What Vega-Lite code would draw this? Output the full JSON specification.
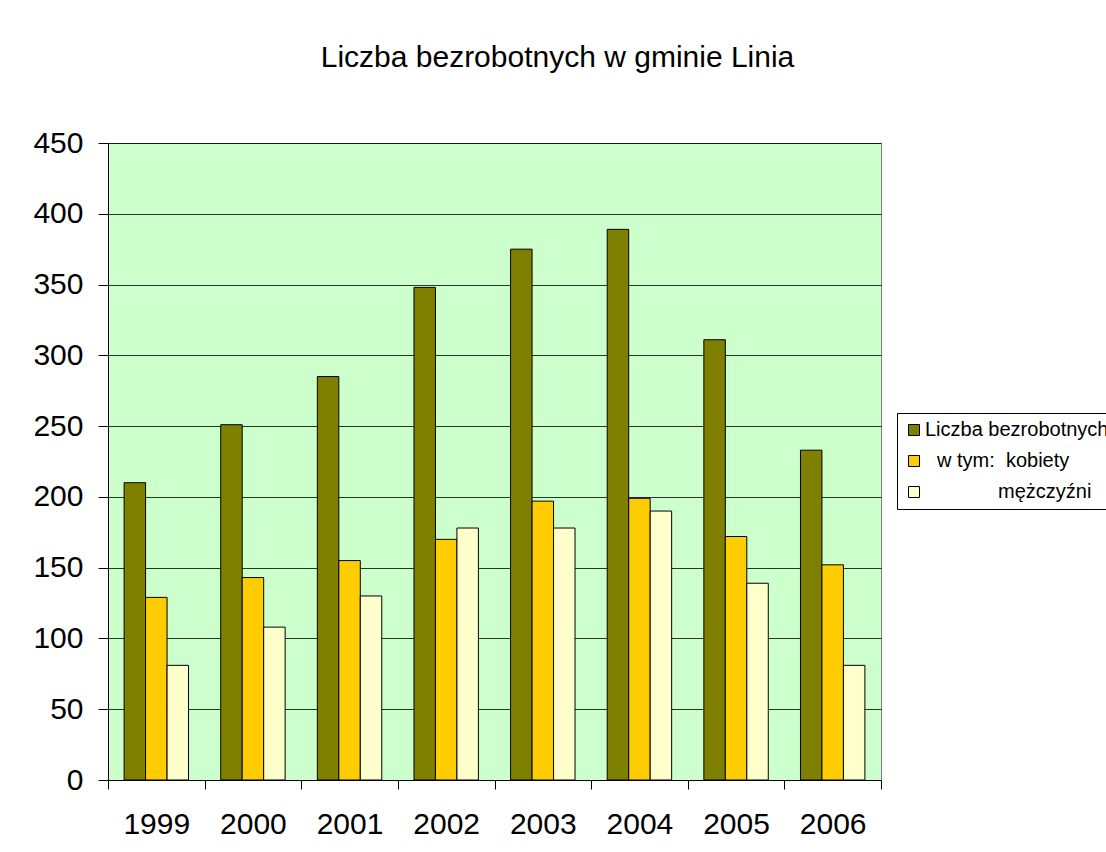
{
  "$schema": "https://vega.github.io/schema/vega-lite/v6.json",
  "autosize": {"type": "none"},
  "width": 773,
  "height": 637,
  "padding": {"left": 108, "top": 143, "right": 225, "bottom": 72},
  "background": "white",
  "title": {
    "text": "Liczba bezrobotnych w gminie Linia",
    "font": "Liberation Sans",
    "fontSize": 30,
    "fontWeight": "normal",
    "color": "black",
    "anchor": "middle",
    "dx": 63,
    "offset": 55
  },
  "data": {
    "values": [
      {"rok": "1999", "seria": "Liczba bezrobotnych", "wartosc": 210},
      {"rok": "1999", "seria": "w tym:  kobiety", "wartosc": 129},
      {"rok": "1999", "seria": "mężczyźni", "wartosc": 81},
      {"rok": "2000", "seria": "Liczba bezrobotnych", "wartosc": 251},
      {"rok": "2000", "seria": "w tym:  kobiety", "wartosc": 143},
      {"rok": "2000", "seria": "mężczyźni", "wartosc": 108},
      {"rok": "2001", "seria": "Liczba bezrobotnych", "wartosc": 285},
      {"rok": "2001", "seria": "w tym:  kobiety", "wartosc": 155},
      {"rok": "2001", "seria": "mężczyźni", "wartosc": 130},
      {"rok": "2002", "seria": "Liczba bezrobotnych", "wartosc": 348},
      {"rok": "2002", "seria": "w tym:  kobiety", "wartosc": 170},
      {"rok": "2002", "seria": "mężczyźni", "wartosc": 178},
      {"rok": "2003", "seria": "Liczba bezrobotnych", "wartosc": 375},
      {"rok": "2003", "seria": "w tym:  kobiety", "wartosc": 197},
      {"rok": "2003", "seria": "mężczyźni", "wartosc": 178},
      {"rok": "2004", "seria": "Liczba bezrobotnych", "wartosc": 389},
      {"rok": "2004", "seria": "w tym:  kobiety", "wartosc": 199},
      {"rok": "2004", "seria": "mężczyźni", "wartosc": 190},
      {"rok": "2005", "seria": "Liczba bezrobotnych", "wartosc": 311},
      {"rok": "2005", "seria": "w tym:  kobiety", "wartosc": 172},
      {"rok": "2005", "seria": "mężczyźni", "wartosc": 139},
      {"rok": "2006", "seria": "Liczba bezrobotnych", "wartosc": 233},
      {"rok": "2006", "seria": "w tym:  kobiety", "wartosc": 152},
      {"rok": "2006", "seria": "mężczyźni", "wartosc": 81}
    ]
  },
  "mark": {"type": "bar", "stroke": "black", "strokeWidth": 1},
  "encoding": {
    "x": {
      "field": "rok",
      "type": "ordinal",
      "scale": {"paddingInner": 0, "paddingOuter": 0},
      "axis": {
        "title": null,
        "labelAngle": 0,
        "labelFont": "Liberation Sans",
        "labelFontSize": 30,
        "labelColor": "black",
        "labelPadding": 20,
        "tickBand": "extent",
        "tickSize": 9,
        "tickColor": "black",
        "domainColor": "black",
        "grid": false
      }
    },
    "xOffset": {
      "field": "seria",
      "type": "nominal",
      "sort": ["Liczba bezrobotnych", "w tym:  kobiety", "mężczyźni"],
      "scale": {"paddingInner": 0, "paddingOuter": 0.75}
    },
    "y": {
      "field": "wartosc",
      "type": "quantitative",
      "scale": {"domain": [0, 450], "nice": false},
      "axis": {
        "title": null,
        "values": [0, 50, 100, 150, 200, 250, 300, 350, 400, 450],
        "labelFont": "Liberation Sans",
        "labelFontSize": 30,
        "labelColor": "black",
        "labelPadding": 15,
        "tickSize": 10,
        "tickColor": "black",
        "domainColor": "black",
        "grid": true,
        "gridColor": "black",
        "gridOpacity": 0.8
      }
    },
    "fill": {
      "field": "seria",
      "type": "nominal",
      "sort": ["Liczba bezrobotnych", "w tym:  kobiety", "mężczyźni"],
      "scale": {
        "domain": ["Liczba bezrobotnych", "w tym:  kobiety", "mężczyźni"],
        "range": ["#808000", "#FFCC00", "#FFFFCC"]
      },
      "legend": {
        "title": null,
        "orient": "none",
        "legendX": 789,
        "legendY": 270,
        "strokeColor": "black",
        "fillColor": "white",
        "padding": 7,
        "symbolType": "square",
        "symbolSize": 121,
        "symbolStrokeColor": "black",
        "symbolStrokeWidth": 1,
        "labelFont": "Liberation Sans",
        "labelFontSize": 20,
        "labelColor": "black",
        "labelOffset": 1,
        "labelLimit": 400,
        "rowPadding": 11,
        "labelExpr": "datum.label == 'w tym:  kobiety' ? 'w tym:\u00a0\u00a0kobiety' : datum.label",
        "encode": {
          "labels": {
            "update": {
              "dx": {"signal": "datum.value == 'Liczba bezrobotnych' ? 0 : (datum.value == 'w tym:  kobiety' ? 12 : 73)"}
            }
          }
        }
      }
    }
  },
  "config": {
    "view": {"fill": "#CCFFCC", "stroke": "#808080", "strokeWidth": 1},
    "font": "Liberation Sans"
  }
}
